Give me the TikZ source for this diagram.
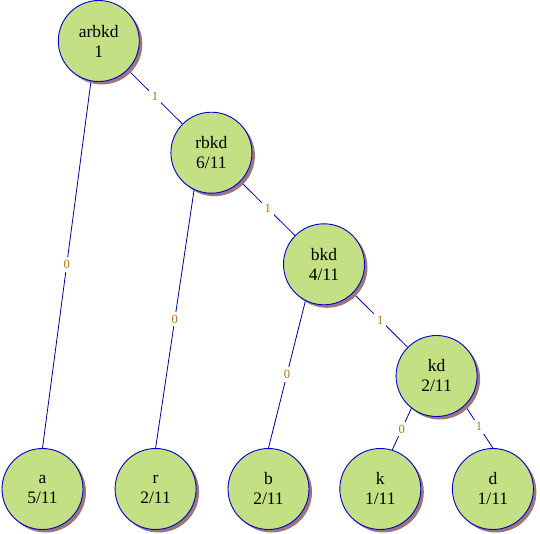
\documentclass[tikz,border=0pt]{standalone}
\usepackage{fontspec}
\setmainfont{Liberation Serif}
\usetikzlibrary{shadows,backgrounds}
\definecolor{nodefill}{RGB}{196,224,132}
\definecolor{nodeline}{RGB}{0,0,200}
\definecolor{edgeline}{RGB}{0,0,150}
\definecolor{shadowc}{RGB}{155,120,120}
\definecolor{labelc}{RGB}{180,110,20}
\begin{document}
\begin{tikzpicture}[x=1pt,y=-1pt,
  treenode/.style={circle, draw=nodeline, line width=0.9pt, fill=nodefill,
    minimum size=81pt, inner sep=0pt, align=center,
    font=\fontsize{17.5}{20}\selectfont,
    drop shadow={shadow xshift=3pt, shadow yshift=-3pt, fill=shadowc, opacity=1}},
  edge/.style={draw=edgeline, line width=0.8pt},
  elabel/.style={midway, fill=white, inner sep=3pt, text=labelc,
    font=\fontsize{12.5}{12.5}\selectfont}]
\useasboundingbox (0,0) rectangle (540,534);
\node[treenode] (arbkd) at (98.8,41) {arbkd\\1};
\node[treenode] (rbkd) at (211.4,152.7) {rbkd\\6/11};
\node[treenode] (bkd) at (324,264.3) {bkd\\4/11};
\node[treenode] (kd) at (436.6,376) {kd\\2/11};
\node[treenode] (a) at (42.5,489) {a\\5/11};
\node[treenode] (r) at (155.6,489) {r\\2/11};
\node[treenode] (b) at (268.5,489) {b\\2/11};
\node[treenode] (k) at (380.3,489) {k\\1/11};
\node[treenode] (d) at (492.9,489) {d\\1/11};
\begin{scope}[on background layer]
\draw[edge] (arbkd.259) -- (a.north) node[elabel] {0};
\draw[edge] (arbkd) -- (rbkd) node[elabel] {1};
\draw[edge] (rbkd.245) -- (r.north) node[elabel] {0};
\draw[edge] (rbkd) -- (bkd) node[elabel] {1};
\draw[edge] (bkd.243) -- (b.north) node[elabel] {0};
\draw[edge] (bkd) -- (kd) node[elabel] {1};
\draw[edge] (kd.232) -- (k.73) node[elabel] {0};
\draw[edge] (kd.314) -- (d.north) node[elabel] {1};
\end{scope}
\end{tikzpicture}
\end{document}
